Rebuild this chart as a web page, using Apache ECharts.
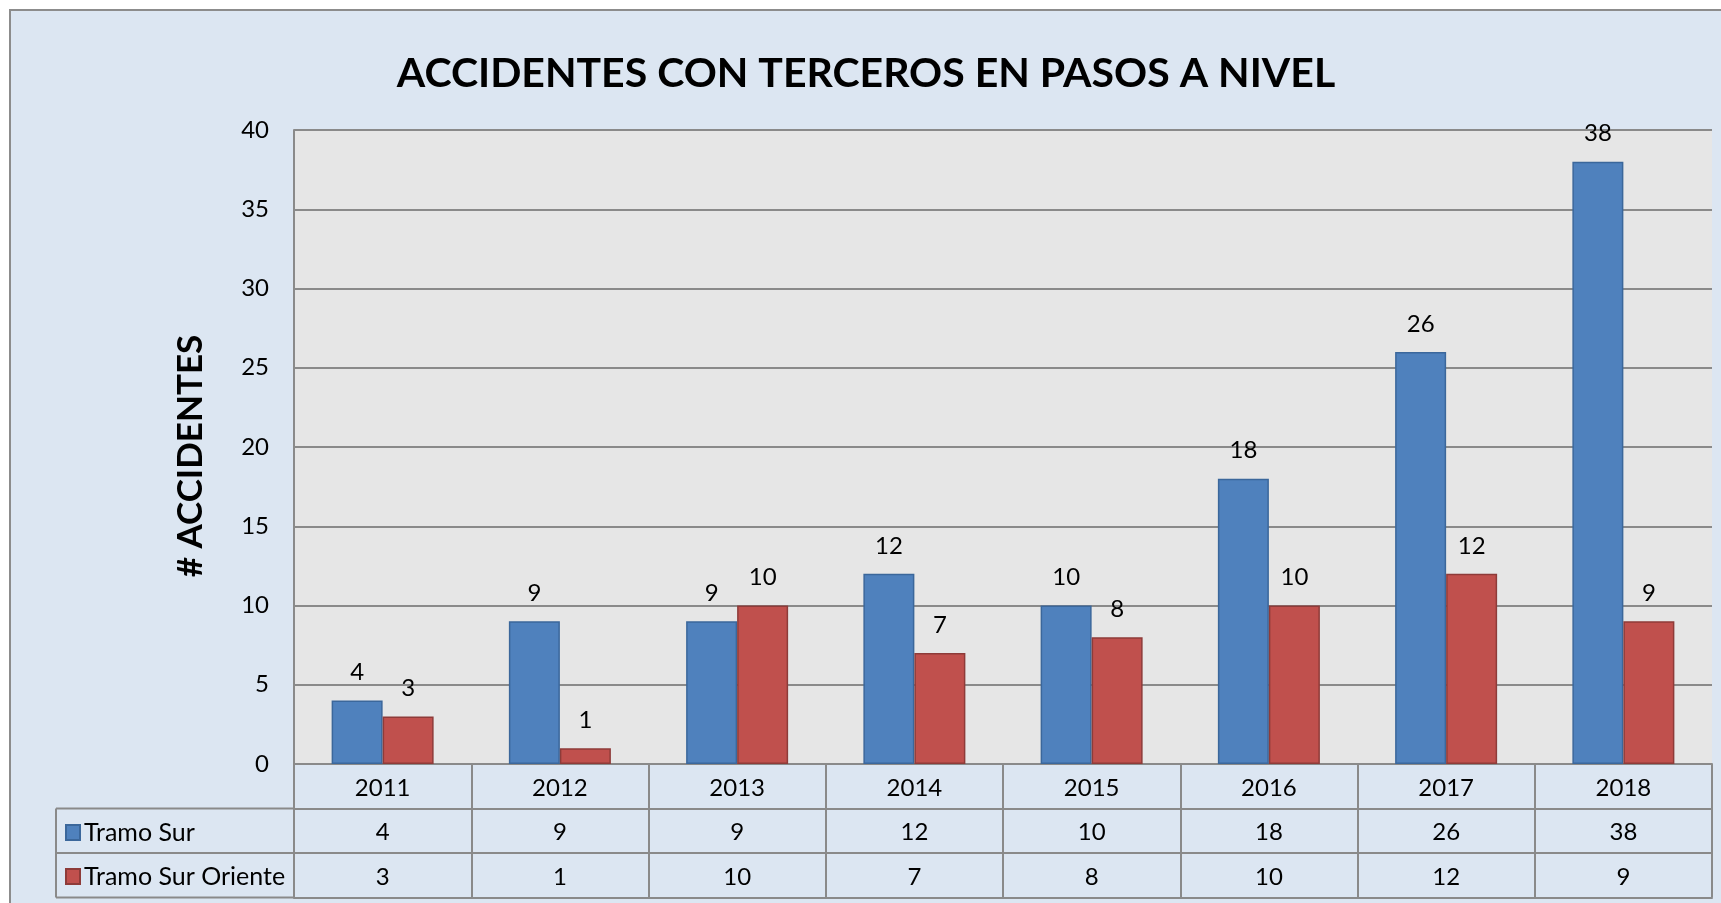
<!DOCTYPE html>
<html>
<head>
<meta charset="utf-8">
<script src="https://cdn.jsdelivr.net/npm/echarts@6/dist/echarts.min.js"></script>
<style>
html,body{margin:0;padding:0;background:#ffffff;}
#chart{width:1721px;height:903px;}
</style>
</head>
<body>
<div id="chart"></div>
<script>
const years = ['2011','2012','2013','2014','2015','2016','2017','2018'];
const tramoSur = [4, 9, 9, 12, 10, 18, 26, 38];
const tramoSurOriente = [3, 1, 10, 7, 8, 10, 12, 9];
const seriesNames = ['Tramo Sur', 'Tramo Sur Oriente'];
const yTicks = {min: 0, max: 40, interval: 5};
const titleText = 'ACCIDENTES CON TERCEROS EN PASOS A NIVEL';
const yName = '# ACCIDENTES';

const FONT = 'Lato, "Open Sans", sans-serif';
const GRID_COLOR = '#8a8a8a';
const BLUE = '#4f81bd', BLUE_B = '#3b679b';
const RED = '#c0504d', RED_B = '#8e3b39';

const chart = echarts.init(document.getElementById('chart'), null, {renderer: 'canvas'});

const gridLeft = 294, gridTop = 130, gridRight = 9, gridBottom = 139;
const rowH = 44.5;

function tableAxis(offset, values) {
  return {
    type: 'category',
    gridIndex: 0,
    position: 'bottom',
    offset: offset,
    data: years,
    axisLine: {show: true, lineStyle: {color: GRID_COLOR, width: 2}},
    axisTick: {show: values !== null, interval: 0, length: rowH, lineStyle: {color: GRID_COLOR, width: 2}},
    axisLabel: {
      show: values !== null,
      interval: 0,
      margin: 12,
      fontFamily: FONT,
      fontSize: 24,
      color: '#000',
      formatter: function (v, i) { return values ? String(values[i]) : ''; }
    },
    splitLine: {show: false}
  };
}

const legendText = {fontFamily: FONT, fontSize: 25, color: '#000', padding: [0, 0, 0, -1]};

const option = {
  backgroundColor: '#ffffff',
  animation: false,
  title: {
    text: titleText,
    left: 861,
    top: 48,
    textAlign: 'center',
    textStyle: {fontFamily: FONT, fontSize: 41, fontWeight: 'bold', color: '#000'}
  },
  legend: [
    {
      data: [seriesNames[0]],
      left: 65, top: 820, padding: 0,
      icon: 'rect', itemWidth: 14, itemHeight: 15,
      textStyle: legendText,
      selectedMode: false
    },
    {
      data: [seriesNames[1]],
      left: 65, top: 864, padding: 0,
      icon: 'rect', itemWidth: 14, itemHeight: 15,
      textStyle: legendText,
      selectedMode: false
    }
  ],
  grid: {
    left: gridLeft, top: gridTop, right: gridRight, bottom: gridBottom,
    show: true, backgroundColor: '#e6e6e6', borderWidth: 0,
    containLabel: false
  },
  xAxis: [
    tableAxis(0, years),
    tableAxis(rowH, tramoSur),
    tableAxis(rowH * 2, tramoSurOriente),
    tableAxis(rowH * 3, null)
  ],
  yAxis: {
    type: 'value',
    min: yTicks.min, max: yTicks.max, interval: yTicks.interval,
    name: yName,
    nameLocation: 'middle',
    nameRotate: 90,
    nameGap: 86,
    nameTextStyle: {fontFamily: FONT, fontSize: 35, fontWeight: 'bold', color: '#000', padding: [0, 18, 0, 0]},
    axisLine: {show: true, lineStyle: {color: GRID_COLOR, width: 2}},
    axisTick: {show: false},
    axisLabel: {fontFamily: FONT, fontSize: 24, color: '#000', margin: 25},
    splitLine: {show: true, lineStyle: {color: GRID_COLOR, width: 2}}
  },
  series: [
    {
      name: seriesNames[0],
      type: 'bar',
      data: tramoSur,
      barWidth: 51,
      barGap: '0%',
      itemStyle: {color: BLUE, borderColor: BLUE_B, borderWidth: 1.5},
      label: {show: true, position: 'top', distance: 16, fontFamily: FONT, fontSize: 24, color: '#000'}
    },
    {
      name: seriesNames[1],
      type: 'bar',
      data: tramoSurOriente,
      barWidth: 51,
      barGap: '0%',
      itemStyle: {color: RED, borderColor: RED_B, borderWidth: 1.5},
      label: {show: true, position: 'top', distance: 16, fontFamily: FONT, fontSize: 24, color: '#000'}
    }
  ],
  graphic: {
    elements: [
      {
        type: 'rect', z: -100, silent: true,
        shape: {x: 10, y: 10, width: 1730, height: 920},
        style: {fill: '#dce6f2', stroke: '#8c8c8c', lineWidth: 2}
      }
    ]
  }
};

chart.setOption(option);

// left column borders of the data table, aligned to the axis rows
const y0 = 903 - gridBottom;
const lines = [];
[1, 2, 3].forEach(function (k) {
  const y = y0 + rowH * k;
  lines.push({type: 'line', z: 50, silent: true,
    shape: {x1: 56, y1: y, x2: gridLeft, y2: y},
    style: {stroke: GRID_COLOR, lineWidth: 2}});
});
lines.push({type: 'line', z: 50, silent: true,
  shape: {x1: 56, y1: y0 + rowH, x2: 56, y2: y0 + rowH * 3},
  style: {stroke: GRID_COLOR, lineWidth: 2}});
chart.setOption({graphic: {elements: option.graphic.elements.concat(lines)}});
</script>
</body>
</html>
